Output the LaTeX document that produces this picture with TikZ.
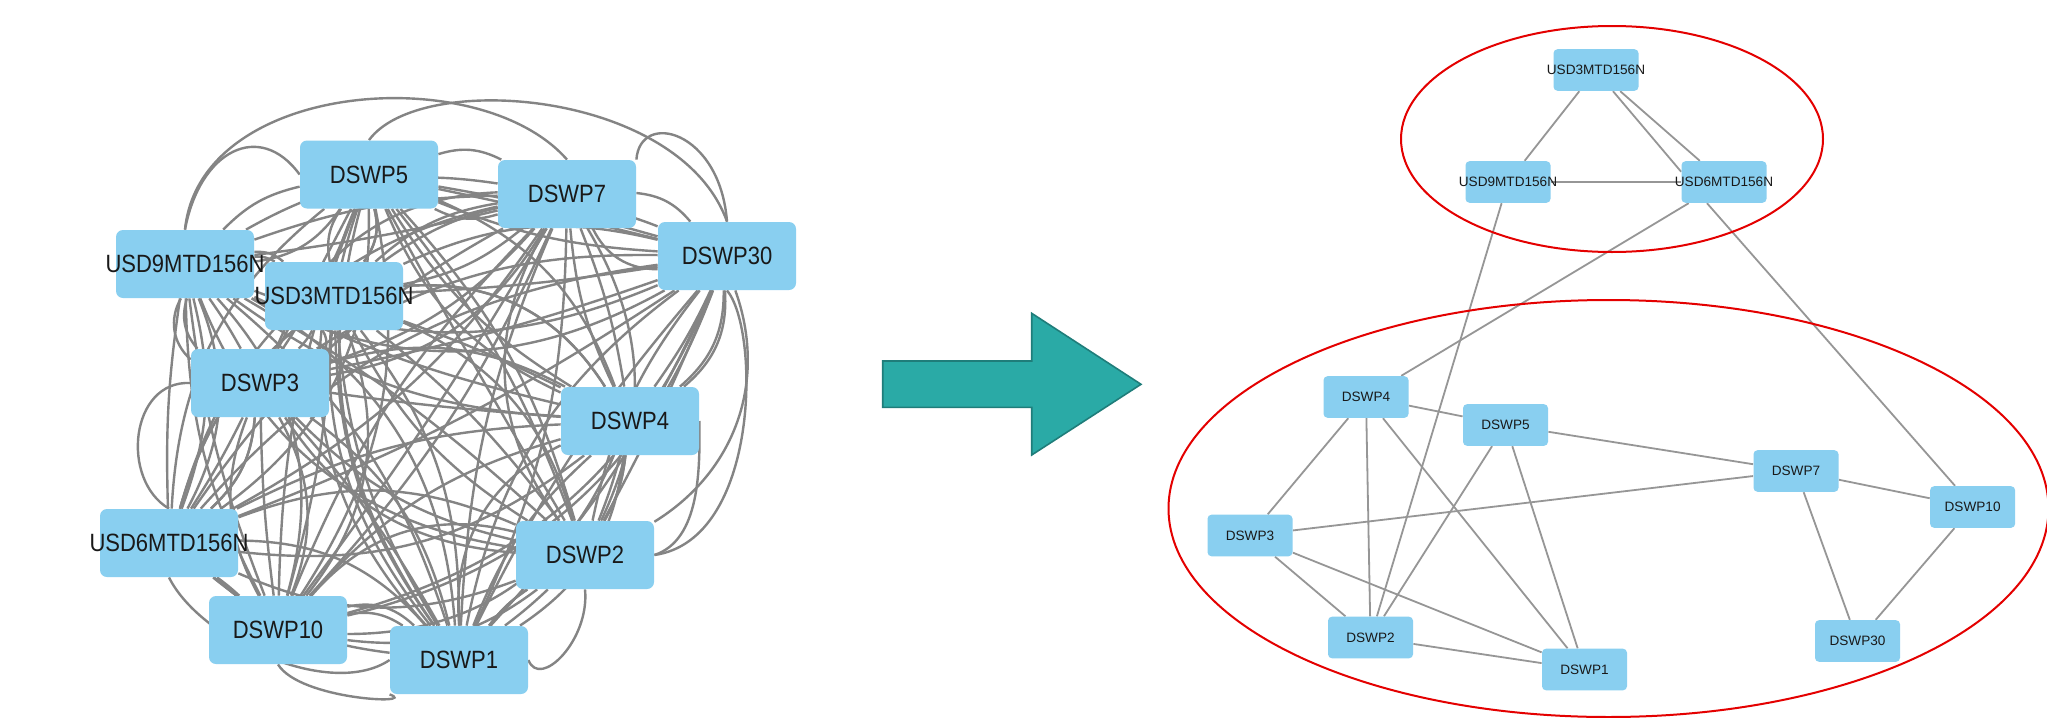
\documentclass[tikz,border=0pt]{standalone}
\usepackage{fontspec}
\setmainfont{Liberation Sans}
\usepackage{graphicx}
\usetikzlibrary{calc}
\pgfdeclarelayer{bg}
\pgfsetlayers{bg,main}
\definecolor{boxblue}{RGB}{137,207,240}
\definecolor{edgegray}{RGB}{132,132,132}
\definecolor{redgegray}{RGB}{150,150,150}
\definecolor{ellred}{RGB}{228,0,0}
\definecolor{tealfill}{RGB}{42,170,166}
\definecolor{tealline}{RGB}{31,125,122}
\definecolor{txtcol}{RGB}{25,25,25}
\newcommand\bigtxt[1]{\makebox[0pt]{\scalebox{0.88}[1]{#1}}}
\newcommand\smalltxt[1]{\makebox[0pt]{#1}}
\begin{document}
\begin{tikzpicture}[x=0.5pt,y=-0.5pt,
  bigbox/.style={fill=boxblue, draw=none, rounded corners=3.5pt, minimum width=69pt, minimum height=34pt, inner sep=0pt, text=txtcol, font=\fontsize{12.5}{14}\selectfont},
  smallbox/.style={fill=boxblue, draw=none, rounded corners=2pt, minimum width=42.5pt, minimum height=20.8pt, inner sep=0pt, text=txtcol, font=\fontsize{6.8}{8}\selectfont},
  ledge/.style={draw=edgegray, line width=1.2pt},
  redge/.style={draw=redgegray, line width=0.9pt},
  ring/.style={draw=ellred, line width=1pt}]
\useasboundingbox (0,0) rectangle (2047,718);
\begin{pgfonlayer}{bg}
\fill[white] (0,0) rectangle (2047,718);
\end{pgfonlayer}

% ---------- left graph nodes ----------
\node[bigbox] (n1) at (369,174.5) {\bigtxt{DSWP5}};
\node[bigbox] (n2) at (567,194) {\bigtxt{DSWP7}};
\node[bigbox] (n3) at (727,256) {\bigtxt{DSWP30}};
\node[bigbox] (n4) at (185,264) {\bigtxt{USD9MTD156N}};
\node[bigbox] (n5) at (334,296) {\bigtxt{USD3MTD156N}};
\node[bigbox] (n6) at (260,383) {\bigtxt{DSWP3}};
\node[bigbox] (n7) at (630,421) {\bigtxt{DSWP4}};
\node[bigbox] (n8) at (169,543) {\bigtxt{USD6MTD156N}};
\node[bigbox] (n9) at (585,555) {\bigtxt{DSWP2}};
\node[bigbox] (n10) at (278,630) {\bigtxt{DSWP10}};
\node[bigbox] (n11) at (459,660) {\bigtxt{DSWP1}};

\begin{pgfonlayer}{bg}
\foreach \i in {1,...,10}{
  \pgfmathtruncatemacro\s{\i+1}
  \foreach \j in {\s,...,11}{
    \pgfmathsetmacro\ba{mod(\i*37+\j*23,70)-35}
    \pgfmathsetmacro\bb{mod(\i*19+\j*41+11,60)-30}
    \pgfmathsetmacro\bc{mod(\i*53+\j*17+7,80)-40}
    \pgfmathtruncatemacro\pq{mod(\i+\j,2)}
    \draw[ledge] (n\i) to[bend left=\ba] (n\j);
    \draw[ledge] (n\i) to[bend left=\bb] (n\j);
    \ifnum\pq=0 \draw[ledge] (n\i) to[bend left=\bc] (n\j); \fi
  }}
\draw[ledge] (n4.north) .. controls (200,80) and (480,60) .. (n2.north);
\draw[ledge] (n4.north) .. controls (200,150) and (260,120) .. (n1.west);
\draw[ledge] (n1.north) .. controls (420,70) and (680,90) .. (n3.north);
\draw[ledge] (n2.north east) .. controls (640,110) and (720,130) .. (n3.north);
\draw[ledge] (n3.south) .. controls (760,330) and (760,540) .. (n9.east);
\draw[ledge] (n7.east) .. controls (700,470) and (700,540) .. (n9.east);
\draw[ledge] (n6.west) .. controls (130,380) and (120,480) .. (n8.north);
\draw[ledge] (n10.south) .. controls (300,700) and (420,705) .. (n11.south west);
\draw[ledge] (n8.south) .. controls (200,640) and (330,700) .. (n11.west);
\draw[ledge] (n9.south) .. controls (590,640) and (540,690) .. (n11.east);
\end{pgfonlayer}

% ---------- arrow ----------
\draw[fill=tealfill, draw=tealline, line width=0.8pt]
  (882.7,361) -- (1031.7,361) -- (1031.7,313.3) -- (1141,384.3) -- (1031.7,455) -- (1031.7,407.3) -- (882.7,407.3) -- cycle;

% ---------- right graph nodes ----------
\node[smallbox] (u3) at (1596,70) {\smalltxt{USD3MTD156N}};
\node[smallbox] (u9) at (1508,182) {\smalltxt{USD9MTD156N}};
\node[smallbox] (u6) at (1724,182) {\smalltxt{USD6MTD156N}};
\node[smallbox] (r4) at (1366,397) {\smalltxt{DSWP4}};
\node[smallbox] (r5) at (1505.5,425) {\smalltxt{DSWP5}};
\node[smallbox] (r7) at (1796,471) {\smalltxt{DSWP7}};
\node[smallbox] (r10) at (1972.6,507) {\smalltxt{DSWP10}};
\node[smallbox] (r3) at (1250,535.5) {\smalltxt{DSWP3}};
\node[smallbox] (r2) at (1370.5,637.5) {\smalltxt{DSWP2}};
\node[smallbox] (r1) at (1584.5,669.5) {\smalltxt{DSWP1}};
\node[smallbox] (r30) at (1857.5,641) {\smalltxt{DSWP30}};

\begin{pgfonlayer}{bg}
\draw[redge] (u3) -- (u9);
\draw[redge] (u3) -- (u6);
\draw[redge] ($(u3.south)+(17,0)$) -- ($(u6.west)+(0,-10.3)$);
\draw[redge] (u9) -- (u6);
\draw[redge] (u9) -- (r2);
\draw[redge] (u6) -- (r4);
\draw[redge] ($(u6.south)+(-17,0)$) -- ($(r10.north)+(-17.6,0)$);
\draw[redge] (r4) -- (r5);
\draw[redge] (r5) -- (r7);
\draw[redge] (r7) -- (r10);
\draw[redge] (r7) -- (r3);
\draw[redge] (r7) -- (r30);
\draw[redge] (r10) -- (r30);
\draw[redge] (r4) -- (r3);
\draw[redge] (r4) -- (r2);
\draw[redge] (r4) -- (r1);
\draw[redge] (r5) -- (r2);
\draw[redge] (r5) -- (r1);
\draw[redge] (r3) -- (r2);
\draw[redge] (r3) -- (r1);
\draw[redge] (r2) -- (r1);
\end{pgfonlayer}

% ---------- red rings ----------
\draw[ring] (1612,139) ellipse [x radius=105.5pt, y radius=56.5pt];
\draw[ring] (1608.5,508.5) ellipse [x radius=220pt, y radius=104.25pt];
\end{tikzpicture}
\end{document}
